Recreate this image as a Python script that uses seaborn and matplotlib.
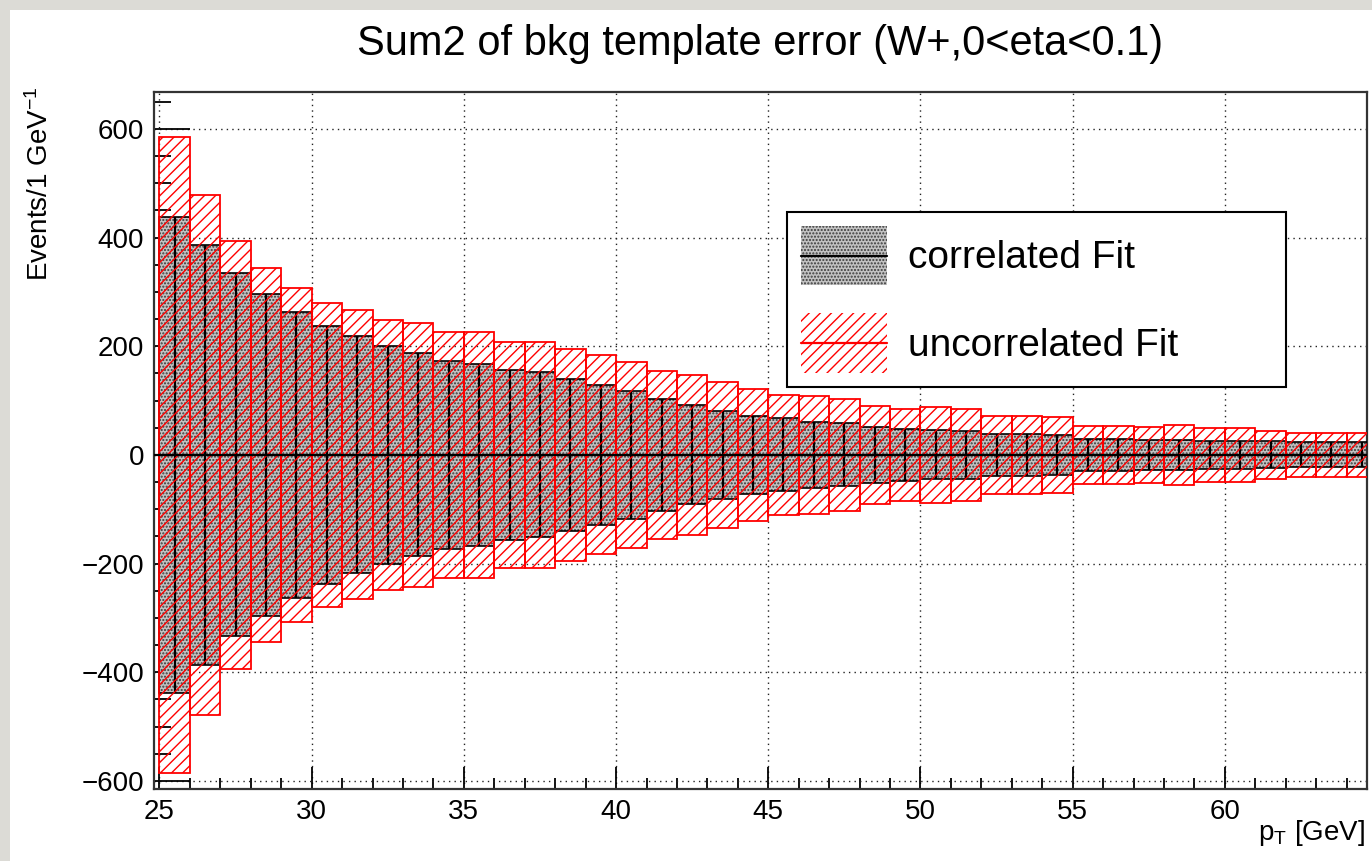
import numpy as np
import pandas as pd
import matplotlib
matplotlib.use("Agg")
import matplotlib.pyplot as plt
import seaborn as sns
from matplotlib.patches import Patch, Rectangle
from matplotlib.lines import Line2D
from matplotlib.legend_handler import HandlerBase
from matplotlib.ticker import MultipleLocator

# ---------------- data ----------------
bin_edges = list(range(25, 66))  # pT bins, 1 GeV wide
correlated = [438, 387, 334, 297, 263, 238, 218, 200, 187, 173,
              168, 157, 152, 140, 129, 118, 103, 91, 81, 72,
              67, 61, 58, 52, 48, 45, 44, 39, 39, 37,
              30, 29, 28, 28, 26, 26, 25, 23, 23, 23]
uncorrelated = [586, 478, 394, 344, 307, 280, 266, 249, 243, 227,
                226, 208, 208, 195, 183, 171, 155, 147, 134, 122,
                111, 109, 103, 90, 84, 89, 84, 72, 72, 70,
                54, 54, 51, 55, 49, 49, 44, 41, 41, 40]
title = "Sum2 of bkg template error (W+,0<eta<0.1)"
legend_labels = ["correlated Fit", "uncorrelated Fit"]

edges = np.array(bin_edges, dtype=float)
centers = 0.5 * (edges[:-1] + edges[1:])
corr = np.array(correlated, dtype=float)
unc = np.array(uncorrelated, dtype=float)
df = pd.DataFrame({"pt": centers, "corr_up": corr, "corr_dn": -corr,
                   "unc_up": unc, "unc_dn": -unc})

# ---------------- style ----------------
sns.set_theme(style="white")
plt.rcParams["font.family"] = ["Liberation Sans", "DejaVu Sans"]
plt.rcParams["mathtext.fontset"] = "custom"
plt.rcParams["mathtext.rm"] = "Liberation Sans"
plt.rcParams["mathtext.it"] = "Liberation Sans"
plt.rcParams["hatch.linewidth"] = 1.0
plt.rcParams["text.color"] = "black"

DOT_FACE = "#c2c2c2"
DOT_EDGE = "#3a3a3a"

W, H = 1372, 861
fig = plt.figure(figsize=(W / 100, H / 100), dpi=100, facecolor="#dcdbd6")
fig.patches.append(Rectangle((10 / W, 0), 1, 1 - 10 / H, transform=fig.transFigure,
                             facecolor="white", edgecolor="none", zorder=-10))

ax = fig.add_axes([154 / W, 1 - 789 / H, (1367 - 154) / W, (789 - 92) / H])
ax.set_facecolor("white")

# correlated band: dotted fill
for col in ("corr_up", "corr_dn"):
    sns.histplot(data=df, x="pt", weights=col, bins=bin_edges, element="bars", fill=True,
                 facecolor=DOT_FACE, edgecolor=DOT_EDGE, hatch=".....", linewidth=0,
                 ax=ax, zorder=2)
    sns.histplot(data=df, x="pt", weights=col, bins=bin_edges, element="bars", fill=False,
                 color="black", linewidth=1.2, ax=ax, zorder=3)
ax.vlines(centers, -corr, corr, color="black", linewidth=1.6, zorder=3)

# uncorrelated band: red hatched boxes
for col in ("unc_up", "unc_dn"):
    sns.histplot(data=df, x="pt", weights=col, bins=bin_edges, element="bars", fill=True,
                 facecolor="none", edgecolor="red", hatch="///", linewidth=1.3,
                 ax=ax, zorder=4)
ax.axhline(0, color="black", linewidth=1.6, zorder=5)

# axes
ax.set_xlim(24.82, 64.67)
ax.set_ylim(-615, 668)
ax.xaxis.set_major_locator(MultipleLocator(5))
ax.xaxis.set_minor_locator(MultipleLocator(1))
ax.yaxis.set_major_locator(MultipleLocator(200))
ax.yaxis.set_minor_locator(MultipleLocator(50))
ax.tick_params(axis="both", which="both", direction="in", colors="black",
               labelsize=20, top=False, right=False, left=True, bottom=True)
ax.tick_params(axis="x", which="major", length=16, width=1.3, pad=7)
ax.tick_params(axis="x", which="minor", length=8, width=1.3)
ax.tick_params(axis="y", which="major", length=26, width=1.3, pad=7)
ax.tick_params(axis="y", which="minor", length=12, width=1.3)
ax.grid(True, which="major", color="#222222", linestyle=(0, (1, 3)), linewidth=1.0)
ax.set_axisbelow(True)
for s in ax.spines.values():
    s.set_color("#333333")
    s.set_linewidth(1.6)
ax.set_xlabel("")
ax.set_ylabel("")

# texts
fig.text(760 / W, 1 - 55 / H, title, ha="center", va="baseline", fontsize=30, color="black")
fig.text(40 / W, 1 - 86 / H, "Events/1 GeV$^{-1}$", rotation=90, ha="center", va="top",
         fontsize=20, color="black")
fig.text(1365 / W, 1 - 840 / H, "p$_{\\mathregular{T}}$ [GeV]", ha="right", va="baseline",
         fontsize=20, color="black")


# legend: ROOT-style swatch (fill pattern with a line through the middle)
class BandHandler(HandlerBase):
    def create_artists(self, legend, orig_handle, xdescent, ydescent, width, height,
                       fontsize, trans):
        patch, line = orig_handle
        x0, y0 = -xdescent, -ydescent
        rect = Rectangle((x0, y0), width, height)
        rect.update_from(patch)
        rect.set_transform(trans)
        ln = Line2D([x0, x0 + width], [y0 + height / 2] * 2)
        ln.update_from(line)
        ln.set_transform(trans)
        return [rect, ln]


handles = [
    (Patch(facecolor=DOT_FACE, edgecolor=DOT_EDGE, hatch=".....", linewidth=0),
     Line2D([], [], color="black", linewidth=1.6)),
    (Patch(facecolor="white", edgecolor="red", hatch="///", linewidth=0),
     Line2D([], [], color="red", linewidth=1.6)),
]
leg = ax.legend(handles, legend_labels, loc="upper left",
                bbox_to_anchor=(787 / W, 1 - 387 / H, 499 / W, 175 / H),
                bbox_transform=fig.transFigure, mode="expand", borderaxespad=0,
                handler_map={tuple: BandHandler()},
                fontsize=28, handlelength=2.23, handleheight=1.99, handletextpad=0.54,
                labelspacing=0.72, borderpad=0.35, fancybox=False, framealpha=1,
                edgecolor="black", shadow=False, labelcolor="black")
leg.get_frame().set_linewidth(1.5)
leg.set_zorder(10)

fig.savefig("out.png", dpi=100, facecolor=fig.get_facecolor())
